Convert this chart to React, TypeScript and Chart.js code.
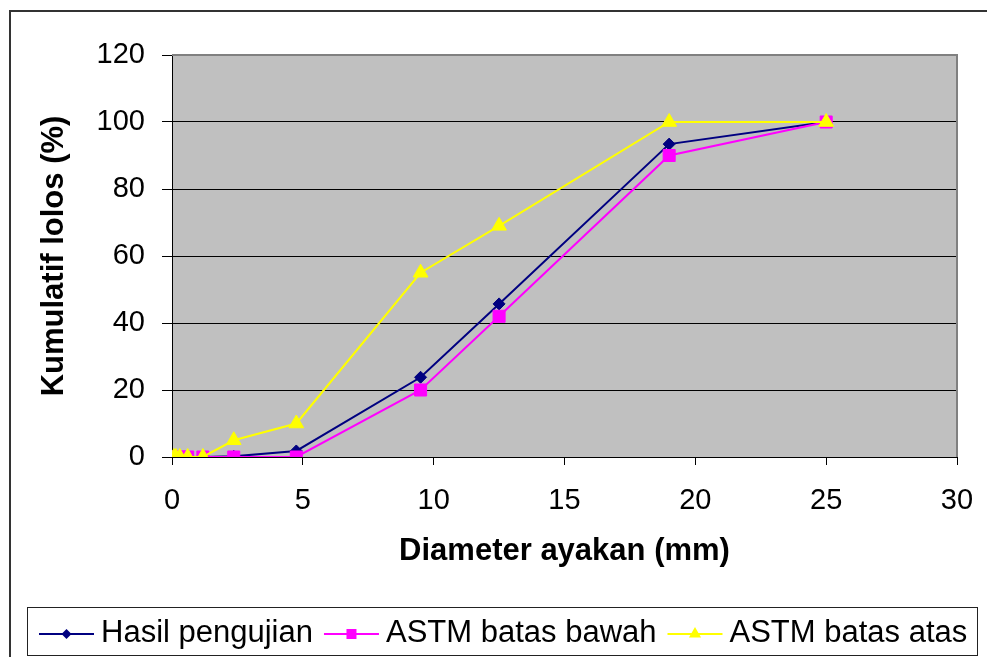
import React, { useEffect, useRef } from 'react';
import { Chart, registerables } from 'chart.js';

Chart.register(...registerables);

// Sieve openings (mm) and cumulative percent passing
const sieveSizes = [0.075, 0.15, 0.3, 0.6, 1.18, 2.36, 4.75, 9.5, 12.5, 19, 25];
const hasilPengujian = [0, 0, 0, 0, 0, 0.2, 1.8, 23.8, 45.7, 93.4, 100];
const astmBatasBawah = [0, 0, 0, 0, 0, 0, 0, 20, 42, 90, 100];
const astmBatasAtas = [0, 0, 0, 0, 0, 5, 10, 55, 69, 100, 100];

const seriesNames = ['Hasil pengujian', 'ASTM batas bawah', 'ASTM batas atas'];
const seriesColors = ['#000080', '#FF00FF', '#FFFF00'];
const seriesMarkers = ['rectRot', 'rect', 'triangle'];
const seriesRadius = [6, 8.5, 8.5];

const xAxisTitle = 'Diameter ayakan (mm)';
const yAxisTitle = 'Kumulatif lolos (%)';
const xRange = { min: 0, max: 30, step: 5 };
const yRange = { min: 0, max: 120, step: 20 };

const FONT = 'Arial, "Liberation Sans", sans-serif';

function drawMarker(ctx: CanvasRenderingContext2D, kind: string, x: number, y: number, color: string) {
  ctx.fillStyle = color;
  ctx.beginPath();
  if (kind === 'rectRot') {
    const r = 5;
    ctx.moveTo(x, y - r);
    ctx.lineTo(x + r, y);
    ctx.lineTo(x, y + r);
    ctx.lineTo(x - r, y);
  } else if (kind === 'rect') {
    const h = 5;
    ctx.rect(x - h, y - h, 2 * h, 2 * h);
  } else {
    const r = 7;
    ctx.moveTo(x, y - r);
    ctx.lineTo(x + r * 0.866, y + r * 0.5);
    ctx.lineTo(x - r * 0.866, y + r * 0.5);
  }
  ctx.closePath();
  ctx.fill();
}

const framePlugin = {
  id: 'excelFrame',
  beforeDraw(chart: any) {
    const { ctx, chartArea: a, width, height } = chart;
    ctx.save();
    ctx.fillStyle = '#ffffff';
    ctx.fillRect(0, 0, width, height);
    ctx.fillStyle = '#C0C0C0';
    ctx.fillRect(a.left, a.top, a.right - a.left, a.bottom - a.top);
    // outer chart frame
    ctx.strokeStyle = '#333333';
    ctx.lineWidth = 2;
    ctx.beginPath();
    ctx.moveTo(10, height);
    ctx.lineTo(10, 11);
    ctx.lineTo(width, 11);
    ctx.stroke();
    ctx.restore();
  },
  afterDraw(chart: any) {
    const { ctx, chartArea: a } = chart;
    ctx.save();
    // plot area border (top and right)
    ctx.strokeStyle = '#808080';
    ctx.lineWidth = 2;
    ctx.beginPath();
    ctx.moveTo(a.left, a.top);
    ctx.lineTo(a.right, a.top);
    ctx.lineTo(a.right, a.bottom);
    ctx.stroke();

    // legend box
    ctx.strokeStyle = '#222222';
    ctx.lineWidth = 1;
    ctx.strokeRect(27.5, 607.5, 950, 48);

    // legend entries
    ctx.font = '31px ' + FONT;
    ctx.textBaseline = 'alphabetic';
    ctx.textAlign = 'left';
    let x = 39;
    const lineY = 634;
    chart.data.datasets.forEach((ds: any, i: number) => {
      ctx.strokeStyle = ds.borderColor;
      ctx.lineWidth = 2;
      ctx.beginPath();
      ctx.moveTo(x, lineY);
      ctx.lineTo(x + 55, lineY);
      ctx.stroke();
      drawMarker(ctx, seriesMarkers[i], x + 27.5, lineY, ds.backgroundColor);
      x += 55 + 7;
      ctx.fillStyle = '#000000';
      ctx.fillText(ds.label, x, 642);
      x += ctx.measureText(ds.label).width + 11;
    });
    ctx.restore();
  },
};

export default function App() {
  const canvasRef = useRef<HTMLCanvasElement | null>(null);

  useEffect(() => {
    if (!canvasRef.current) return;
    const seriesValues = [hasilPengujian, astmBatasBawah, astmBatasAtas];
    const chart = new Chart(canvasRef.current, {
      type: 'scatter',
      data: {
        datasets: seriesValues.map((vals, i) => ({
          label: seriesNames[i],
          data: sieveSizes.map((s, k) => ({ x: s, y: vals[k] })),
          showLine: true,
          borderColor: seriesColors[i],
          backgroundColor: seriesColors[i],
          borderWidth: 2,
          pointStyle: seriesMarkers[i] as any,
          pointRadius: seriesRadius[i],
          pointBorderWidth: 1,
          pointBorderColor: seriesColors[i],
          pointBackgroundColor: seriesColors[i],
          order: 3 - i,
        })),
      },
      plugins: [framePlugin],
      options: {
        animation: false,
        responsive: false,
        devicePixelRatio: 1,
        layout: { padding: { top: 55, right: 30, bottom: 80, left: 0 } },
        plugins: {
          legend: { display: false },
          tooltip: { enabled: false },
        },
        scales: {
          x: {
            type: 'linear',
            min: xRange.min,
            max: xRange.max,
            afterFit: (s: any) => {
              s.height = 120;
              s.paddingLeft = 0;
              s.paddingRight = 0;
            },
            ticks: {
              stepSize: xRange.step,
              color: '#000',
              font: { family: FONT, size: 29 },
              padding: 19,
              maxRotation: 0,
              autoSkip: false,
            },
            grid: {
              drawOnChartArea: false,
              drawTicks: true,
              tickLength: 8,
              tickColor: '#000',
              color: '#000',
            },
            border: { color: '#000', width: 1 },
            title: {
              display: true,
              text: xAxisTitle,
              color: '#000',
              font: { family: FONT, size: 31, weight: 'bold' },
              padding: { top: 0, bottom: 7 },
            },
          },
          y: {
            type: 'linear',
            min: yRange.min,
            max: yRange.max,
            afterFit: (s: any) => {
              s.width = 172;
              s.paddingTop = 0;
              s.paddingBottom = 0;
            },
            ticks: {
              stepSize: yRange.step,
              color: '#000',
              font: { family: FONT, size: 29 },
              padding: 17,
            },
            grid: {
              color: '#000',
              lineWidth: 1,
              drawTicks: true,
              tickLength: 10,
              tickColor: '#000',
            },
            border: { color: '#000', width: 1 },
            title: {
              display: true,
              text: yAxisTitle,
              color: '#000',
              font: { family: FONT, size: 31, weight: 'bold' },
              padding: { top: 36, bottom: 0 },
            },
          },
        },
      } as any,
    });
    return () => chart.destroy();
  }, []);

  return (
    <div style={{ position: 'fixed', left: 0, top: 0, width: 987, height: 657, background: '#fff' }}>
      <canvas ref={canvasRef} width={987} height={657} style={{ display: 'block' }} />
    </div>
  );
}
